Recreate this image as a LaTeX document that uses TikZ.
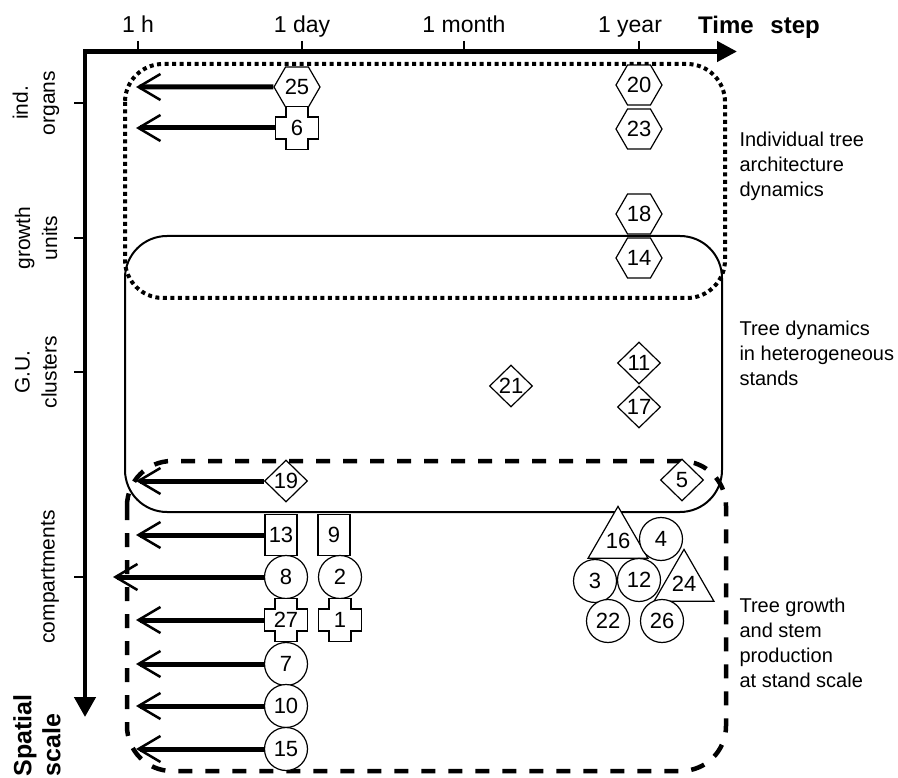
\documentclass[tikz,border=0pt]{standalone}
\usepackage{fontspec}
\setmainfont{Liberation Sans}
\usetikzlibrary{shapes.geometric, arrows.meta}
\newcommand{\crossnode}[4]{%
  \draw[shp, shift={(#2,#3)}] (-11,-21.5) -- (11,-21.5) -- (11,-11) -- (21.5,-11) -- (21.5,11) -- (11,11) -- (11,21.5) -- (-11,21.5) -- (-11,11) -- (-21.5,11) -- (-21.5,-11) -- (-11,-11) -- cycle;
  \node[crs] (#1) at (#2,#3) {#4};}
\begin{document}
\begin{tikzpicture}[x=1pt, y=-1pt,
  numfont/.style={font=\fontsize{22}{22}\selectfont},
  shp/.style={draw, line width=1.2pt, fill=white, inner sep=0pt, numfont},
  circ/.style={shp, circle, minimum size=43pt},
  hexa/.style={shp, regular polygon, regular polygon sides=6, minimum size=46pt},
  diam/.style={shp, diamond, minimum width=43pt, minimum height=42pt},
  sq/.style={shp, rectangle, minimum width=32pt, minimum height=41pt},
  tri/.style={shp, regular polygon, regular polygon sides=3, minimum size=50pt},
  crs/.style={inner sep=0pt, minimum width=43pt, minimum height=43pt, numfont},
  arr/.style={line width=5pt, -{Straight Barb[length=22pt, width=26pt, line width'=2.5pt]}},
  axislbl/.style={anchor=base, font=\fontsize{23}{23}\selectfont},
  sidelbl/.style={rotate=90, align=center, font=\fontsize{21}{27}\selectfont},
  rightlbl/.style={anchor=west, align=left, font=\fontsize{20}{25}\selectfont},
  tick/.style={line width=1.3pt}
]
\useasboundingbox (0,0) rectangle (898,778);

% group boxes
\draw[line width=4pt, dash pattern=on 4pt off 3.5pt, rounded corners=38pt] (125,64) rectangle (725,298);
\draw[line width=2pt, rounded corners=42pt] (125,236) rectangle (722,512);
\draw[line width=4.5pt, dash pattern=on 14pt off 13pt, rounded corners=45pt] (127,461) rectangle (726,771);

% axes
\coordinate (o) at (85,51.5);
\coordinate (xt) at (737,51.5);
\coordinate (yt) at (85,717);
\draw[line width=4.5pt, {Triangle[length=20pt,width=21pt]}-{Triangle[length=20pt,width=20pt]}] (yt) -- (o) -- (xt);
\foreach \x in {138,302,464,639} \draw[tick] (\x,41) -- (\x,51.5);
\foreach \y in {103,238,372,577} \draw[tick] (74,\y) -- (85,\y);

% axis labels
\node[axislbl] (t1) at (138,33) {1 h};
\node[axislbl] (t2) at (302,33) {1 day};
\node[axislbl] (t3) at (464,33) {1 month};
\node[axislbl] (t4) at (630,33) {1 year};
\node[anchor=base, font=\bfseries\fontsize{24}{24}\selectfont] (ts) at (759,34) {Time\hspace{0.7em}step};
\node[sidelbl] (s1) at (36,103) {ind.\\organs};
\node[sidelbl] (s2) at (36,238) {growth\\units};
\node[sidelbl] (s3) at (36,372) {G.U.\\clusters};
\node[sidelbl] (s4) at (50,577) {compartments};
\node[rotate=90, anchor=west, align=left, font=\bfseries\fontsize{25}{29}\selectfont] (sp) at (37,780) {Spatial\\scale};

% right labels
\node[rightlbl] (r1) at (736,166) {Individual tree\\architecture\\dynamics};
\node[rightlbl] (r2) at (736,353) {Tree dynamics\\in heterogeneous\\stands};
\node[rightlbl] (r3) at (736,643) {Tree growth\\and stem\\production\\at stand scale};

% model markers
\node[hexa] (n25) at (297,87) {25};
\crossnode{n6}{297}{128}{6}
\node[hexa] (n20) at (639,85) {20};
\node[hexa] (n23) at (639,129) {23};
\node[hexa] (n18) at (639,214) {18};
\node[hexa] (n14) at (639,258) {14};
\node[diam] (n21) at (511,386) {21};
\node[diam] (n11) at (639,363) {11};
\node[diam] (n17) at (639,407) {17};
\node[diam] (n5) at (682,480) {5};
\node[diam] (n19) at (286,481) {19};
\node[sq] (n13) at (281,535) {13};
\node[sq] (n9) at (334,535) {9};
\node[circ] (n8) at (286,577) {8};
\node[circ] (n2) at (340,577) {2};
\crossnode{n27}{286}{620}{27}
\crossnode{n1}{340}{620}{1}
\node[circ] (n7) at (286,664) {7};
\node[circ] (n10) at (286,706) {10};
\node[circ] (n15) at (286,749) {15};
\node[tri] (n16) at (618,541) {16};
\node[circ] (n4) at (661,539) {4};
\node[circ] (n3) at (595,581) {3};
\node[circ] (n12) at (639,580) {12};
\node[tri] (n24) at (684,584) {24};
\node[circ] (n22) at (608,621) {22};
\node[circ] (n26) at (662,621) {26};

% arrow ends
\coordinate (a25) at (136,87);
\coordinate (a6) at (136,128);
\coordinate (a19) at (136,481);
\coordinate (a13) at (136,535);
\coordinate (a8) at (113,577);
\coordinate (a27) at (136,620);
\coordinate (a7) at (136,664);
\coordinate (a10) at (136,706);
\coordinate (a15) at (136,749);
\draw[arr] (n25.west) -- (a25);
\draw[arr] (n6.west) -- (a6);
\draw[arr] (n19.west) -- (a19);
\draw[arr] (n13.west) -- (a13);
\draw[arr] (n8.west) -- (a8);
\draw[arr] (n27.west) -- (a27);
\draw[arr] (n7.west) -- (a7);
\draw[arr] (n10.west) -- (a10);
\draw[arr] (n15.west) -- (a15);
\end{tikzpicture}
\end{document}
